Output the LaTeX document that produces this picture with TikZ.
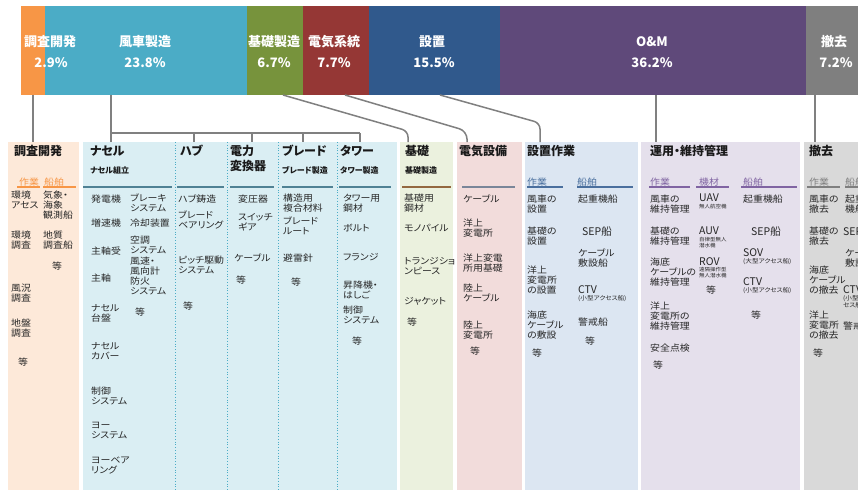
\documentclass[tikz,border=0pt]{standalone}
\usepackage{fontspec}
\setmainfont{Noto Sans CJK JP}[RawFeature=+palt]
\newfontfamily\itemfont{Noto Sans CJK JP}[RawFeature=+palt, FakeStretch=1.1]
\usetikzlibrary{positioning}

% bar colours
\definecolor{cOrange}{HTML}{F79646}
\definecolor{cCyan}{HTML}{4BACC6}
\definecolor{cGreen}{HTML}{77933C}
\definecolor{cRed}{HTML}{953735}
\definecolor{cBlue}{HTML}{30598C}
\definecolor{cPurple}{HTML}{5F497A}
\definecolor{cGray}{HTML}{7F7F7F}
% box colours
\definecolor{kOrange}{HTML}{FDE9D9}
\definecolor{kCyan}{HTML}{DAEEF3}
\definecolor{kGreen}{HTML}{EBF1DE}
\definecolor{kRed}{HTML}{F2DCDB}
\definecolor{kBlue}{HTML}{DCE6F2}
\definecolor{kPurple}{HTML}{E5E0EC}
\definecolor{kGray}{HTML}{D9D9D9}
% rule and label colours
\definecolor{rTeal}{HTML}{4F8194}
\definecolor{rBrown}{HTML}{93683F}
\definecolor{rSlate}{HTML}{7A8699}
\definecolor{rBlue}{HTML}{4A6F9E}
\definecolor{rPurple}{HTML}{8064A2}
\definecolor{cLine}{HTML}{808080}

\tikzset{
  barseg/.style={anchor=north west, minimum height=89pt, inner sep=0pt, outer sep=0pt},
  barlab/.style={text=white, inner sep=0pt, font=\bfseries\fontsize{13}{15}\selectfont},
  colbox/.style={anchor=north west, minimum height=348pt, inner sep=0pt, outer sep=0pt},
  colhead/.style={anchor=west, inner sep=0pt, align=left, text=black!90, font=\bfseries\fontsize{12}{15}\selectfont},
  subhead/.style={anchor=west, inner sep=0pt, text=black!90, font=\bfseries\fontsize{8}{10}\selectfont},
  kindlab/.style={anchor=west, inner sep=0pt, font=\itemfont\fontsize{9}{10}\selectfont},
  item/.style={anchor=north west, inner sep=0pt, align=left, text=black!85, font=\itemfont\fontsize{9}{10}\selectfont},
  abbr/.style={anchor=north west, inner sep=0pt, text=black!85, font=\fontsize{10.5}{12}\selectfont},
  note/.style={anchor=north west, inner sep=0pt, align=left, text=black!85, font=\itemfont\fontsize{5}{6}\selectfont},
  conn/.style={draw=cLine, line width=1.5pt},
  hrule/.style={line width=1.5pt},
  sepline/.style={draw=cCyan, dotted, line width=0.8pt}
}

\begin{document}
\begin{tikzpicture}[x=1pt, y=-1pt]
    \useasboundingbox (0,0) rectangle (858,492);
    \clip (0,0) rectangle (858,492);
    \fill[white] (0,0) rectangle (858,492);

    % cost bar
    \node[barseg, fill=cOrange, minimum width=24pt] (bChosa) at (21,6) {};
    \node[barseg, fill=cCyan, minimum width=202pt] (bFusha) at (45,6) {};
    \node[barseg, fill=cGreen, minimum width=56pt] (bKiso) at (247,6) {};
    \node[barseg, fill=cRed, minimum width=66pt] (bDenki) at (303,6) {};
    \node[barseg, fill=cBlue, minimum width=131pt] (bSetchi) at (369,6) {};
    \node[barseg, fill=cPurple, minimum width=306pt] (bOM) at (500,6) {};
    \node[barseg, fill=cGray, minimum width=60pt] (bTekkyo) at (806,6) {};

    \node[barlab] (lChosa) at (50,42) {調査開発};
    \node[barlab] (pChosa) at (51,63) {2.9\%};
    \node[barlab] (lFusha) at (145,42) {風車製造};
    \node[barlab] (pFusha) at (145,63) {23.8\%};
    \node[barlab] (lKiso) at (274,42) {基礎製造};
    \node[barlab] (pKiso) at (274,63) {6.7\%};
    \node[barlab] (lDenki) at (334,42) {電気系統};
    \node[barlab] (pDenki) at (334,63) {7.7\%};
    \node[barlab] (lSetchi) at (432,42) {設置};
    \node[barlab] (pSetchi) at (434,63) {15.5\%};
    \node[barlab] (lOM) at (652,42) {O\&M};
    \node[barlab] (pOM) at (652,63) {36.2\%};
    \node[barlab] (lTekkyo) at (834,42) {撤去};
    \node[barlab] (pTekkyo) at (836,63) {7.2\%};

    % column boxes
    \node[colbox, fill=kOrange, minimum width=71pt] (kChosa) at (8,142) {};
    \node[colbox, fill=kCyan, minimum width=314pt] (kFusha) at (83,142) {};
    \node[colbox, fill=kGreen, minimum width=53pt] (kKiso) at (400,142) {};
    \node[colbox, fill=kRed, minimum width=65pt] (kDenki) at (457,142) {};
    \node[colbox, fill=kBlue, minimum width=113pt] (kSetchi) at (525,142) {};
    \node[colbox, fill=kPurple, minimum width=159pt] (kOM) at (641,142) {};
    \node[colbox, fill=kGray, minimum width=60pt] (kTekkyo) at (804,142) {};

    \foreach \x in {175,227,278,337}
        \draw[sepline] (\x,142) -- (\x,490);

    % connectors
    \draw[conn] (bChosa.south) -- (bChosa.south |- kChosa.north);
    \coordinate (brL) at (111,133);
    \coordinate (brR) at (360,133);
    \draw[conn] (brL |- bFusha.south) -- (brL) -- (brR);
    \foreach \x in {111,194,252,303,360}
        \draw[conn] (\x,133) -- (\x,142);
    \coordinate (jKiso) at (408,131);
    \draw[conn, rounded corners=6pt] ([xshift=8pt]bKiso.south) -- (jKiso) -- (jKiso |- kKiso.north);
    \coordinate (jDenki) at (467,131);
    \draw[conn, rounded corners=8pt] ([xshift=9pt]bDenki.south) -- (jDenki) -- (jDenki |- kDenki.north);
    \coordinate (jSetchi) at (540,123);
    \draw[conn, rounded corners=6pt] ([xshift=5.5pt]bSetchi.south) -- (jSetchi) -- (jSetchi |- kSetchi.north);
    \draw[conn] ([xshift=3pt]bOM.south) -- ([xshift=3pt]bOM.south |- kOM.north);
    \draw[conn] ([xshift=-21pt]bTekkyo.south) -- ([xshift=-21pt]bTekkyo.south |- kTekkyo.north);

    % headers
    \node[colhead] (hChosa) at (14,151) {調査開発};
    \node[colhead] (hNacelle) at (90,151) {ナセル};
    \node[subhead] (sNacelle) at (90,170) {ナセル組立};
    \node[colhead] (hHub) at (180,151) {ハブ};
    \node[colhead, anchor=north west] (hConv) at (230,145) {電力\\変換器};
    \node[colhead] (hBlade) at (282,151) {ブレード};
    \node[subhead] (sBlade) at (282,170) {ブレード製造};
    \node[colhead] (hTower) at (340,151) {タワー};
    \node[subhead] (sTower) at (340,170) {タワー製造};
    \node[colhead] (hKiso) at (405,151) {基礎};
    \node[subhead] (sKiso) at (405,170) {基礎製造};
    \node[colhead] (hDenki) at (459,151) {電気設備};
    \node[colhead] (hSetchi) at (527,151) {設置作業};
    \node[colhead] (hOM) at (650,151) {運用・維持管理};
    \node[colhead] (hTekkyo) at (809,151) {撤去};

    \node[kindlab, text=cOrange] (tChosaA) at (19,182) {作業};
    \node[kindlab, text=cOrange] (tChosaB) at (44,182) {船舶};
    \node[kindlab, text=rBlue] (tSetchiA) at (527,182) {作業};
    \node[kindlab, text=rBlue] (tSetchiB) at (577,182) {船舶};
    \node[kindlab, text=rPurple] (tOMA) at (650,182) {作業};
    \node[kindlab, text=rPurple] (tOMB) at (699,182) {機材};
    \node[kindlab, text=rPurple] (tOMC) at (743,182) {船舶};
    \node[kindlab, text=cGray] (tTekkyoA) at (809,182) {作業};
    \node[kindlab, text=cGray] (tTekkyoB) at (845,182) {船舶};

    % rules under headers
    \foreach \a/\b/\c in {17/40/cOrange, 43/76/cOrange, 83/172/rTeal, 177/224/rTeal,
        230/274/rTeal, 282/333/rTeal, 339/391/rTeal, 402/451/rBrown, 462/515/rSlate,
        527/563/rBlue, 577/633/rBlue, 649/690/rPurple, 696/729/rPurple, 741/797/rPurple,
        807/840/cGray, 845/870/cGray}
        \draw[hrule, draw=\c] (\a,187) -- (\b,187);

    % research
    \node[item] (ch1) at (11,191) {環境\\アセス};
    \node[item] (ch2) at (11,231) {環境\\調査};
    \node[item] (ch3) at (11,284) {風況\\調査};
    \node[item] (ch4) at (11,319) {地盤\\調査};
    \node[item] (ch5) at (18,358) {等};
    \node[item] (ch6) at (43,191) {気象・\\海象\\観測船};
    \node[item] (ch7) at (43,231) {地質\\調査船};
    \node[item] (ch8) at (52,262) {等};

    % nacelle
    \node[item] (na1) at (91,195) {発電機};
    \node[item] (na2) at (91,219) {増速機};
    \node[item] (na3) at (91,247) {主軸受};
    \node[item] (na4) at (91,274) {主軸};
    \node[item] (na5) at (91,304) {ナセル\\台盤};
    \node[item] (na6) at (91,342) {ナセル\\カバー};
    \node[item] (na7) at (91,387) {制御\\システム};
    \node[item] (na8) at (91,422) {ヨー\\システム};
    \node[item] (na9) at (91,457) {ヨーベア\\リング};
    \node[item] (nb1) at (130,194) {ブレーキ\\システム};
    \node[item] (nb2) at (130,219) {冷却装置};
    \node[item] (nb3) at (130,236) {空調\\システム};
    \node[item] (nb4) at (130,257) {風速・\\風向計};
    \node[item] (nb5) at (130,277) {防火\\システム};
    \node[item] (nb6) at (135,308) {等};

    % hub
    \node[item] (hu1) at (178,195) {ハブ鋳造};
    \node[item] (hu2) at (178,211) {ブレード\\ベアリング};
    \node[item] (hu3) at (178,256) {ピッチ駆動\\システム};
    \node[item] (hu4) at (183,302) {等};

    % converter
    \node[item] (cv1) at (238,195) {変圧器};
    \node[item] (cv2) at (238,213) {スイッチ\\ギア};
    \node[item] (cv3) at (234,254) {ケーブル};
    \node[item] (cv4) at (236,276) {等};

    % blade
    \node[item] (bl1) at (283,194) {構造用\\複合材料};
    \node[item] (bl2) at (283,217) {ブレード\\ルート};
    \node[item] (bl3) at (283,254) {避雷針};
    \node[item] (bl4) at (291,278) {等};

    % tower
    \node[item] (tw1) at (343,194) {タワー用\\鋼材};
    \node[item] (tw2) at (343,224) {ボルト};
    \node[item] (tw3) at (343,253) {フランジ};
    \node[item] (tw4) at (343,281) {昇降機・\\はしご};
    \node[item] (tw5) at (343,306) {制御\\システム};
    \node[item] (tw6) at (352,337) {等};

    % foundation
    \node[item] (ki1) at (404,194) {基礎用\\鋼材};
    \node[item] (ki2) at (404,224) {モノパイル};
    \node[item] (ki3) at (404,257) {トランジショ\\ンピース};
    \node[item] (ki4) at (404,297) {ジャケット};
    \node[item] (ki5) at (407,318) {等};

    % electrical
    \node[item] (de1) at (463,195) {ケーブル};
    \node[item] (de2) at (463,219) {洋上\\変電所};
    \node[item] (de3) at (463,254) {洋上変電\\所用基礎};
    \node[item] (de4) at (463,284) {陸上\\ケーブル};
    \node[item] (de5) at (463,321) {陸上\\変電所};
    \node[item] (de6) at (470,347) {等};

    % installation
    \node[item] (se1) at (527,195) {風車の\\設置};
    \node[item] (se2) at (527,227) {基礎の\\設置};
    \node[item] (se3) at (527,266) {洋上\\変電所\\の設置};
    \node[item] (se4) at (527,311) {海底\\ケーブル\\の敷設};
    \node[item] (se5) at (532,349) {等};
    \node[item] (sf1) at (578,195) {起重機船};
    \node[abbr] (sf2) at (582,226) {SEP船};
    \node[item] (sf3) at (578,249) {ケーブル\\敷設船};
    \node[abbr] (sf4) at (578,285) {CTV};
    \node[note, below=2pt of sf4.south west, anchor=north west, font=\itemfont\fontsize{6}{7}\selectfont] (sf4n) {(小型アクセス船)};
    \node[item] (sf5) at (578,318) {警戒船};
    \node[item] (sf6) at (585,337) {等};

    % operation and maintenance
    \node[item] (om1) at (650,195) {風車の\\維持管理};
    \node[item] (om2) at (650,227) {基礎の\\維持管理};
    \node[item] (om3) at (650,258) {海底\\ケーブルの\\維持管理};
    \node[item] (om4) at (650,302) {洋上\\変電所の\\維持管理};
    \node[item] (om5) at (650,344) {安全点検};
    \node[item] (om6) at (653,361) {等};
    \node[abbr] (ob1) at (699,194) {UAV};
    \node[note, below=1.5pt of ob1.south west, anchor=north west] (ob1n) {無人航空機};
    \node[abbr] (ob2) at (699,227) {AUV};
    \node[note, below=1.5pt of ob2.south west, anchor=north west] (ob2n) {自律型無人\\潜水機};
    \node[abbr] (ob3) at (699,257) {ROV};
    \node[note, below=1.5pt of ob3.south west, anchor=north west] (ob3n) {遠隔操作型\\無人潜水機};
    \node[item] (ob4) at (706,286) {等};
    \node[item] (oc1) at (743,195) {起重機船};
    \node[abbr] (oc2) at (751,226) {SEP船};
    \node[abbr] (oc3) at (743,248) {SOV};
    \node[note, below=2pt of oc3.south west, anchor=north west, font=\itemfont\fontsize{6}{7}\selectfont] (oc3n) {(大型アクセス船)};
    \node[abbr] (oc4) at (743,277) {CTV};
    \node[note, below=2pt of oc4.south west, anchor=north west, font=\itemfont\fontsize{6}{7}\selectfont] (oc4n) {(小型アクセス船)};
    \node[item] (oc5) at (751,311) {等};

    % decommissioning
    \node[item] (te1) at (809,195) {風車の\\撤去};
    \node[item] (te2) at (809,227) {基礎の\\撤去};
    \node[item] (te3) at (809,266) {海底\\ケーブル\\の撤去};
    \node[item] (te4) at (809,311) {洋上\\変電所\\の撤去};
    \node[item] (te5) at (813,349) {等};
    \node[item] (tf1) at (845,195) {起重\\機船};
    \node[abbr] (tf2) at (843,226) {SEP船};
    \node[item] (tf3) at (845,249) {ケーブル\\敷設船};
    \node[abbr] (tf4) at (843,285) {CTV};
    \node[note, below=1.5pt of tf4.south west, anchor=north west, font=\itemfont\fontsize{6}{7}\selectfont] (tf4n) {(小型アク\\セス船)};
    \node[item] (tf5) at (843,322) {警戒船};

\end{tikzpicture}
\end{document}
